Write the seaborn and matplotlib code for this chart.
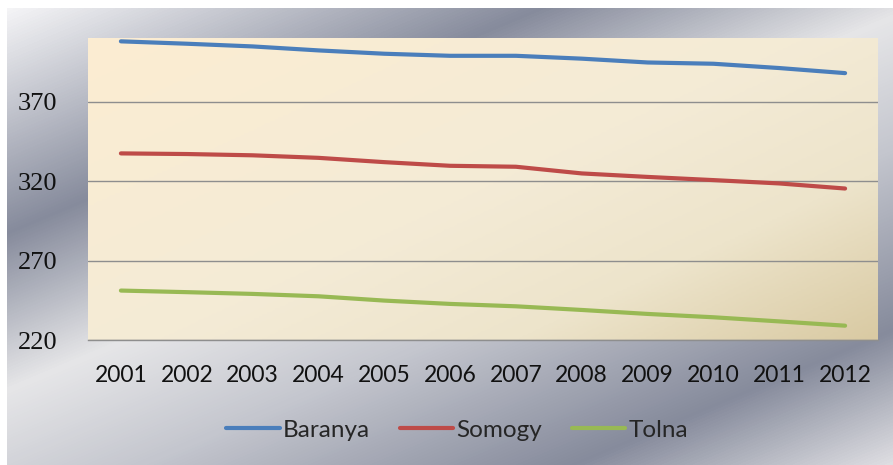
import numpy as np
import pandas as pd
import seaborn as sns
import matplotlib.pyplot as plt
from matplotlib.colors import LinearSegmentedColormap

# values
years = ["2001", "2002", "2003", "2004", "2005", "2006",
         "2007", "2008", "2009", "2010", "2011", "2012"]
baranya = [407.9, 406.4, 404.7, 402.2, 400.1, 398.8, 398.8, 397.0, 394.6, 393.8, 391.1, 387.9]
somogy = [337.4, 337.0, 336.2, 334.6, 331.9, 329.6, 329.0, 324.8, 322.6, 320.6, 318.5, 315.3]
tolna = [251.1, 250.1, 249.0, 247.5, 244.8, 242.7, 241.2, 238.9, 236.4, 234.3, 231.7, 229.0]
series_names = ["Baranya", "Somogy", "Tolna"]
colors = ["#4A7EBB", "#BE4B48", "#98B954"]
yticks = [220, 270, 320, 370]

df = pd.DataFrame({
    "year": years * 3,
    "value": baranya + somogy + tolna,
    "county": [n for n in series_names for _ in years],
})
df["pos"] = df["year"].map({y: i for i, y in enumerate(years)})

sns.set_theme(style="white")
W, H = 893, 465
fig = plt.figure(figsize=(W / 100, H / 100), dpi=100, facecolor="white")

# outer "chrome" background of the chart area
bg = fig.add_axes([0, 0, 1, 1], zorder=-10)
bg.set_xlim(0, W)
bg.set_ylim(H, 0)
bg.axis("off")
xx, yy = np.meshgrid(np.arange(7, W), np.arange(9, H))
t = (0.42 * xx + yy) / (0.42 * W + H)
chrome = LinearSegmentedColormap.from_list("chrome", [
    (0.0, "#F4F4F6"), (0.27, "#868B9C"), (0.46, "#E6E6E8"),
    (0.62, "#C4C6CE"), (0.84, "#868B9C"), (1.0, "#DEDEE2")])
bg.imshow(t, cmap=chrome, extent=[7, W, H, 9], aspect="auto", interpolation="bilinear")

# plot area
ax = fig.add_axes([88 / W, 1 - 340 / H, (878 - 88) / W, (340 - 38) / H])
ax.patch.set_alpha(0)
px, py = np.meshgrid(np.linspace(0, 1, 300), np.linspace(0, 1, 150))
u = 0.55 * px + 0.45 * py
cream = LinearSegmentedColormap.from_list("cream", [
    (0.0, "#FCEDD2"), (0.5, "#F4EBD6"), (0.75, "#EDE4CB"), (1.0, "#D9CAA3")])
ax.imshow(u, cmap=cream, extent=[-0.5, 11.5, 220, 410], aspect="auto",
          origin="upper", zorder=0)

sns.lineplot(data=df, x="pos", y="value", hue="county", palette=colors,
             linewidth=3, ax=ax, zorder=3, solid_capstyle="round", legend=False)

ax.set_xlim(-0.5, 11.5)
ax.set_ylim(220, 410)
ax.set_yticks(yticks)
ax.set_xticks(range(len(years)))
ax.set_xticklabels(years, family="Lato", fontsize=16.5, color="#111111")
ax.set_yticklabels([str(v) for v in yticks], family="Liberation Serif",
                   fontsize=19, color="#111111")
ax.tick_params(axis="both", length=0)
ax.tick_params(axis="y", pad=22)
ax.tick_params(axis="x", pad=18)
ax.set_xlabel("")
ax.set_ylabel("")
ax.yaxis.grid(True, color="#8E8E8E", linewidth=1, zorder=1)
ax.xaxis.grid(False)
ax.set_axisbelow(True)
for side in ["top", "right", "left"]:
    ax.spines[side].set_visible(False)
ax.spines["bottom"].set_color("#8E8E8E")
ax.spines["bottom"].set_linewidth(1)

handles = [plt.Line2D([], [], color=c, linewidth=3) for c in colors]
fig.legend(handles, series_names, loc="center", bbox_to_anchor=(0.512, 1 - 430 / H),
           ncol=3, frameon=False, handlelength=2.2, handletextpad=0.15,
           columnspacing=1.2, prop={"family": "Lato", "size": 17.5})

fig.savefig("out.png", dpi=100)
